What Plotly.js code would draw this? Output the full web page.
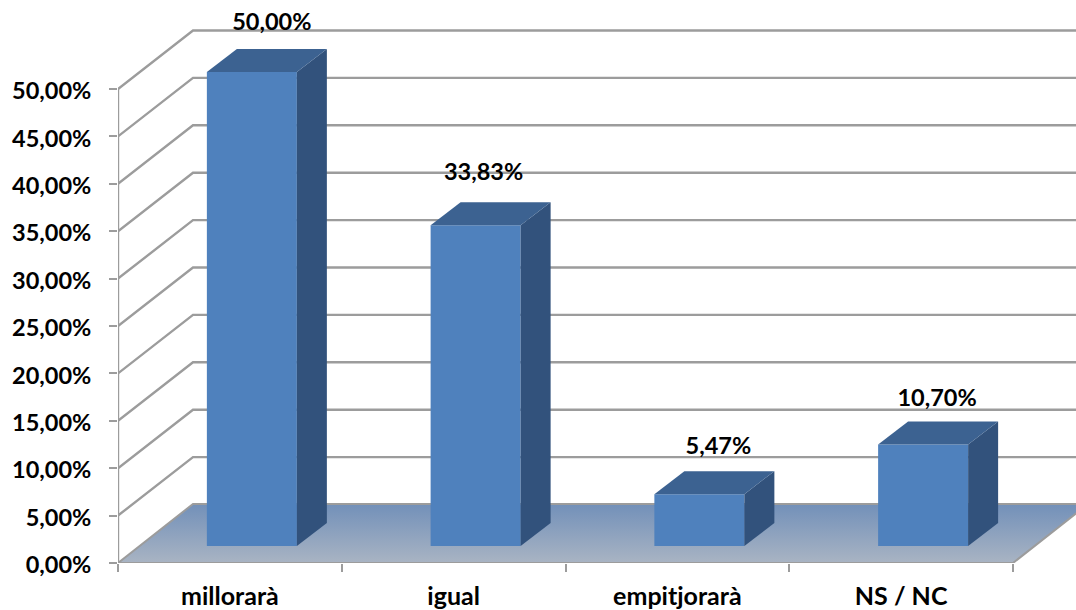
<!DOCTYPE html>
<html>
<head>
<meta charset="utf-8">
<script src="https://cdn.plot.ly/plotly-3.0.1.min.js"></script>
<style>html,body{margin:0;padding:0;background:#fff;overflow:hidden}#c{width:1076px;height:610px}</style>
</head>
<body>
<div id="c"></div>
<script>
var categories = ["millorarà", "igual", "empitjorarà", "NS / NC"];
var values = [50.00, 33.83, 5.47, 10.70];
var labels = ["50,00%", "33,83%", "5,47%", "10,70%"];
var yTicks = [0, 5, 10, 15, 20, 25, 30, 35, 40, 45, 50];
var yTickLabels = ["0,00%", "5,00%", "10,00%", "15,00%", "20,00%", "25,00%", "30,00%", "35,00%", "40,00%", "45,00%", "50,00%"];

// scale of the drawing: one category / one percent, in pixels
var catPx = 223.75, pctPx = 9.48;
var W = 1076, H = 610, L = 118, B = 47;
var xMax = (W - L) / catPx, yMax = (H - B) / pctPx;
function ux(p) { return p / catPx; }
function uy(p) { return p / pctPx; }

var wallDx = ux(75), wallDy = uy(58.5);    // oblique depth of the chart box
var barDx = ux(30), barDy = uy(23);        // oblique depth of a bar
var barW = ux(90), barShift = ux(22), barBase = uy(17);
var labelDx = [20, 8, 19, 14], labelDy = [48, 51, 46, 44];

var gray = "#9C9C9C";
var traces = [];

// floor
var floorX = [0, wallDx, 4 + wallDx, 4, 0];
var floorY = [0, uy(59), uy(59), 0, 0];
traces.push({
  type: "scatter", mode: "none", zorder: 0, hoverinfo: "skip", showlegend: false,
  x: floorX, y: floorY,
  fill: "toself",
  fillgradient: {type: "vertical", colorscale: [[0, "#A9B4C3"], [1, "#7290B9"]]}
});
traces.push({
  type: "scatter", mode: "lines", zorder: 1, hoverinfo: "skip", showlegend: false,
  x: floorX, y: floorY, line: {color: gray, width: 2}
});

// walls: gridlines
var gx = [], gy = [];
yTicks.slice(1).forEach(function (v) {
  gx.push(0, wallDx, xMax + 1, null);
  gy.push(v, v + wallDy, v + wallDy, null);
});
gx.push(0, 0); gy.push(0, 50);
traces.push({
  type: "scatter", mode: "lines", zorder: 1, hoverinfo: "skip", showlegend: false,
  x: gx, y: gy, cliponaxis: false, connectgaps: false,
  line: {color: gray, width: 2.4}
});

// bar fronts
var centers = values.map(function (v, i) { return i + 0.5 + barShift; });
traces.push({
  type: "bar", zorder: 2, showlegend: false, hoverinfo: "skip",
  x: centers, y: values,
  base: values.map(function () { return barBase; }),
  width: values.map(function () { return barW; }),
  marker: {color: "#4F81BD", line: {width: 0}}
});

// bar sides and tops
values.forEach(function (v, i) {
  var x0 = centers[i] - barW / 2, x1 = centers[i] + barW / 2;
  var y0 = barBase, y1 = barBase + v;
  traces.push({
    type: "scatter", mode: "lines", zorder: 3, hoverinfo: "skip", showlegend: false,
    x: [x1, x1 + barDx, x1 + barDx, x1, x1],
    y: [y0, y0 + barDy, y1 + barDy, y1, y0],
    fill: "toself", fillcolor: "#32527C", line: {width: 0, color: "#32527C"}
  });
  traces.push({
    type: "scatter", mode: "lines", zorder: 3, hoverinfo: "skip", showlegend: false,
    x: [x0, x0 + barDx, x1 + barDx, x1, x0],
    y: [y1, y1 + barDy, y1 + barDy, y1, y1],
    fill: "toself", fillcolor: "#3C6291", line: {width: 0, color: "#3C6291"}
  });
});

// data labels
traces.push({
  type: "scatter", mode: "text", zorder: 4, hoverinfo: "skip", showlegend: false,
  cliponaxis: false,
  x: centers.map(function (c, i) { return c + ux(labelDx[i]); }),
  y: values.map(function (v, i) { return barBase + v + uy(labelDy[i]); }),
  text: labels, textposition: "middle center",
  textfont: {family: "Lato, sans-serif", size: 23.5, color: "#000", weight: 700}
});

var numFont = {family: "Lato, sans-serif", size: 23.5, color: "#000", weight: 700};
var catFont = {family: "Lato, sans-serif", size: 25, color: "#000", weight: 700};
var layout = {
  width: W, height: H, showlegend: false,
  margin: {l: L, r: 0, t: 0, b: B, pad: 0},
  paper_bgcolor: "#fff", plot_bgcolor: "#fff",
  separators: ",.",
  xaxis: {
    range: [0, xMax], showgrid: false, zeroline: false, showline: false, fixedrange: true,
    tickmode: "array", tickvals: [0.5, 1.5, 2.5, 3.5], ticktext: categories,
    ticks: "", tickfont: catFont, ticklabelstandoff: 16,
    minor: {tickmode: "array", tickvals: [0, 1, 2, 3, 4], ticks: "outside", ticklen: 8, tickwidth: 2, tickcolor: gray, showgrid: false}
  },
  yaxis: {
    range: [0, yMax], showgrid: false, zeroline: false, showline: false, fixedrange: true,
    tickmode: "array", tickvals: yTicks, ticktext: yTickLabels,
    ticks: "outside", ticklen: 8, tickwidth: 2, tickcolor: gray,
    tickfont: numFont, ticklabelstandoff: 13, ticklabelshift: 2
  }
};
Plotly.newPlot("c", traces, layout, {displayModeBar: false, staticPlot: true});
</script>
</body>
</html>
